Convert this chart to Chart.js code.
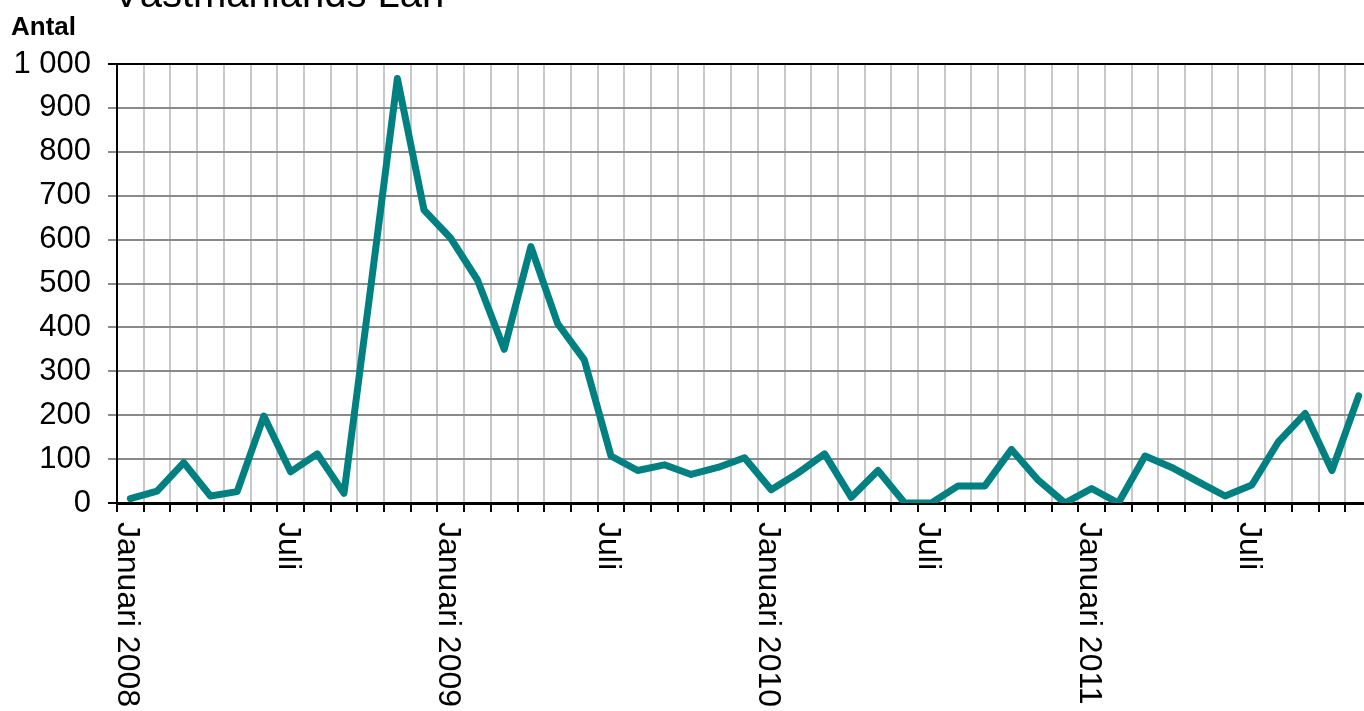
<!DOCTYPE html>
<html>
<head>
<meta charset="utf-8">
<script src="https://cdn.jsdelivr.net/npm/chart.js@4/dist/chart.umd.min.js"></script>
<style>
  html, body { margin: 0; padding: 0; overflow: hidden; background: #fff; }
  #wrap { width: 1400px; height: 711px; }
</style>
</head>
<body>
<div id="wrap"><canvas id="chart" width="1400" height="711"></canvas></div>
<script>
// Månader jan 2008 - nov 2011
const months = [
  '2008-01','2008-02','2008-03','2008-04','2008-05','2008-06','2008-07','2008-08','2008-09','2008-10','2008-11','2008-12',
  '2009-01','2009-02','2009-03','2009-04','2009-05','2009-06','2009-07','2009-08','2009-09','2009-10','2009-11','2009-12',
  '2010-01','2010-02','2010-03','2010-04','2010-05','2010-06','2010-07','2010-08','2010-09','2010-10','2010-11','2010-12',
  '2011-01','2011-02','2011-03','2011-04','2011-05','2011-06','2011-07','2011-08','2011-09','2011-10','2011-11'
];
const xTickLabels = [
  'Januari 2008','','','','','','Juli','','','','','',
  'Januari 2009','','','','','','Juli','','','','','',
  'Januari 2010','','','','','','Juli','','','','','',
  'Januari 2011','','','','','','Juli','','','',''
];
const antal = [
  10, 27, 92, 16, 26, 198, 71, 112, 22, 490, 967, 667,
  603, 508, 350, 584, 409, 326, 107, 74, 87, 65, 81, 103,
  30, 68, 112, 13, 74, 0, 0, 39, 39, 122, 52, 0,
  33, 0, 107, 81, 48, 16, 41, 140, 204, 74, 244
];
const yTickLabels = ['0','100','200','300','400','500','600','700','800','900','1 000'];

const titleText = 'Västmanlands Län';
const yTitle = 'Antal';

// rubrik + roterade månadsetiketter (medurs, som i originalet)
const textPlugin = {
  id: 'texts',
  afterDraw(chart){
    const ctx = chart.ctx;
    ctx.save();
    ctx.fillStyle = '#000';
    ctx.textAlign = 'left';
    ctx.textBaseline = 'alphabetic';
    ctx.font = '40px "Liberation Sans", Arial, sans-serif';
    ctx.fillText(titleText, 113, 7);
    ctx.font = 'bold 26px "Liberation Sans", Arial, sans-serif';
    ctx.fillText(yTitle, 11, 35);

    const xs = chart.scales.x;
    ctx.font = '32px "Liberation Sans", Arial, sans-serif';
    xTickLabels.forEach((lbl, i) => {
      if(!lbl) return;
      const x = xs.getPixelForValue(i);
      ctx.save();
      ctx.translate(x - 12, xs.top + 19);
      ctx.rotate(Math.PI / 2);
      ctx.fillText(lbl, 0, 0);
      ctx.restore();
    });
    ctx.restore();
  }
};

Chart.defaults.animation = false;
new Chart(document.getElementById('chart').getContext('2d'), {
  type: 'line',
  data: {
    labels: months,
    datasets: [{
      data: antal,
      borderColor: '#008080',
      borderWidth: 7,
      tension: 0,
      pointRadius: 0,
      borderJoinStyle: 'round',
      borderCapStyle: 'round',
      fill: false
    }]
  },
  options: {
    responsive: false,
    devicePixelRatio: 1,
    layout: { padding: { left: 0, right: 28, top: 64, bottom: 0 } },
    plugins: { legend: { display: false }, title: { display: false }, tooltip: { enabled: false } },
    scales: {
      x: {
        type: 'category',
        offset: true,
        grid: {
          offset: true,
          color: '#c8c8c8',
          lineWidth: 2,
          drawTicks: true,
          tickLength: 9,
          tickColor: '#000',
          tickWidth: 2
        },
        border: { display: true, color: '#000', width: 3 },
        ticks: { display: false },
        afterFit(s){ s.height = 208; }
      },
      y: {
        min: 0,
        max: 1000,
        grid: {
          color: c => (c.tick && c.tick.value === 1000) ? '#000' : '#8a8a8a',
          lineWidth: 2,
          tickLength: 9,
          tickColor: c => (c.tick && (c.tick.value === 1000 || c.tick.value === 0)) ? '#000' : '#8a8a8a'
        },
        border: { display: true, color: '#000', width: 2 },
        ticks: {
          stepSize: 100,
          padding: 17,
          color: '#000',
          font: { family: '"Liberation Sans", Arial, sans-serif', size: 31 },
          callback: (v, i) => yTickLabels[i]
        },
        afterFit(s){ s.width = 117; }
      }
    }
  },
  plugins: [textPlugin]
});
</script>
</body>
</html>
